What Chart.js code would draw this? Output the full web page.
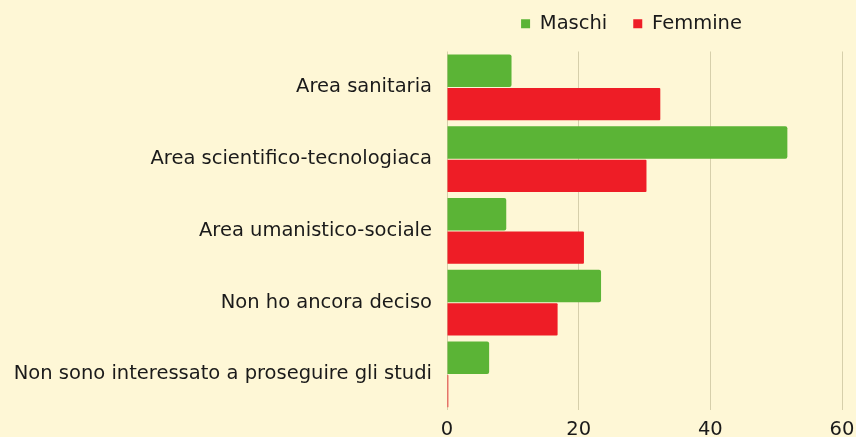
<!DOCTYPE html>
<html>
<head>
<meta charset="utf-8">
<script src="https://cdn.jsdelivr.net/npm/chart.js@4/dist/chart.umd.min.js"></script>
<style>
  html, body { margin: 0; padding: 0; background: #fef7d6; }
  #wrap { width: 856px; height: 437px; }
</style>
</head>
<body>
<div id="wrap"><canvas id="c" width="856" height="437"></canvas></div>
<script>
  /* data */
  const categories = [
    'Area sanitaria',
    'Area scientifico-tecnologiaca',
    'Area umanistico-sociale',
    'Non ho ancora deciso',
    'Non sono interessato a proseguire gli studi'
  ];
  const maschi  = [9.8, 51.7, 9.0, 23.4, 6.4];
  const femmine = [32.4, 30.3, 20.8, 16.8, 0.2];
  const xTicks  = [0, 20, 40, 60];

  const GREEN = '#5bb436';
  const RED   = '#ee1d26';
  const GRID  = '#d6cfab';
  const TEXT  = '#1a1a1a';
  const FONT  = "'DejaVu Sans', sans-serif";
  const SIZE  = 19.5;

  /* nudge the legend up and a bit left of the plot centre, as in the reference */
  const legendShift = {
    id: 'legendShift',
    afterLayout(chart) {
      const lg = chart.legend;
      if (!lg) return;
      lg.left -= 13; lg.right -= 13;
      lg.top -= 8; lg.bottom -= 8;
    }
  };

  new Chart(document.getElementById('c'), {
    type: 'bar',
    data: {
      labels: categories,
      datasets: [
        { label: 'Maschi', data: maschi, backgroundColor: GREEN, borderRadius: 2,
          borderSkipped: 'start', barPercentage: 0.97, categoryPercentage: 0.93 },
        { label: 'Femmine', data: femmine, backgroundColor: RED, borderRadius: 1,
          borderSkipped: 'start', barPercentage: 0.97, categoryPercentage: 0.93 }
      ]
    },
    options: {
      indexAxis: 'y',
      responsive: false,
      animation: false,
      layout: { padding: { top: -4, left: 13, right: 0, bottom: -14 } },
      plugins: {
        legend: {
          position: 'top',
          fullSize: false,
          labels: {
            color: TEXT, font: { family: FONT, size: SIZE },
            boxWidth: 9, boxHeight: 9, padding: 26
          }
        },
        tooltip: { enabled: false }
      },
      scales: {
        x: {
          min: 0, max: 60,
          afterBuildTicks: s => { s.ticks = xTicks.map(v => ({ value: v })); },
          afterFit: s => { s.paddingRight = 14; },
          grid: { color: GRID, drawTicks: false },
          border: { display: false },
          ticks: { color: TEXT, font: { family: FONT, size: SIZE }, padding: 8 }
        },
        y: {
          afterFit: s => { s.width = 434; },
          grid: { display: false, drawTicks: false },
          border: { display: false },
          ticks: { color: TEXT, font: { family: FONT, size: SIZE }, padding: 15 }
        }
      }
    },
    plugins: [legendShift]
  });
</script>
</body>
</html>
